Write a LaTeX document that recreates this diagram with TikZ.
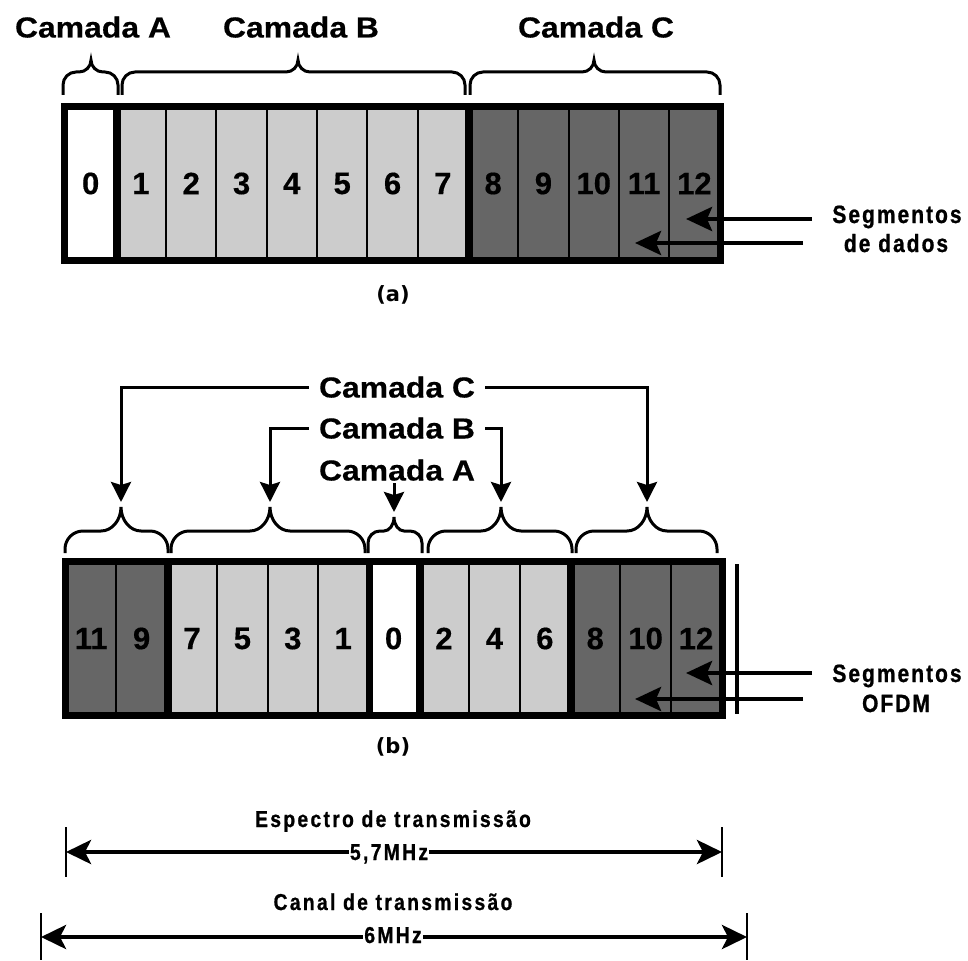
\documentclass[tikz,border=0pt]{standalone}
\usepackage{fontspec}
\setmainfont{Liberation Sans}
\newfontfamily\layerfont{Liberation Sans}[FakeStretch=1.1,FakeBold=0.4]
\newfontfamily\cellfont{Liberation Sans}[FakeBold=0.4]
\newfontfamily\notefont{Liberation Sans}[FakeStretch=0.84,LetterSpace=8,FakeBold=0.8]
\newfontfamily\dimfont{Liberation Sans}[FakeStretch=0.84,LetterSpace=10,FakeBold=0.8]
\newfontfamily\capfont{DejaVu Sans}
\usetikzlibrary{arrows.meta}

\definecolor{cellL}{RGB}{204,204,204}
\definecolor{cellD}{RGB}{102,102,102}

% curly brace: x-left, x-tip, x-right, y-ends, y-bar, y-tip, end radius, tip radius
\newcommand\drawbrace[8]{%
  \draw[bracestyle] (#1,#4) -- (#1,{#5+#7})
    .. controls (#1,{#5+0.45*#7}) and ({#1+0.45*#7},#5) .. ({#1+#7},#5)
    -- ({#2-#8},#5)
    .. controls ({#2-0.45*#8},#5) and (#2,{#6+0.55*(#5-#6)}) .. (#2,#6)
    .. controls (#2,{#6+0.55*(#5-#6)}) and ({#2+0.45*#8},#5) .. ({#2+#8},#5)
    -- ({#3-#7},#5)
    .. controls ({#3-0.45*#7},#5) and (#3,{#5+0.45*#7}) .. (#3,{#5+#7})
    -- (#3,#4);}

\begin{document}
\begin{tikzpicture}[x=1pt,y=-1pt,
  cell/.style={draw=black, line width=2pt, minimum height=152pt, inner sep=0pt,
    font=\cellfont\bfseries\fontsize{31}{31}\selectfont},
  fillW/.style={fill=white},
  fillL/.style={fill=cellL},
  fillD/.style={fill=cellD},
  frame/.style={line width=7pt, line join=miter},
  divider/.style={line width=7.5pt},
  bracestyle/.style={line width=3pt},
  layer/.style={font=\layerfont\bfseries\fontsize{29}{29}\selectfont,
    inner ysep=0pt, inner xsep=10pt, text height=21pt, text depth=0pt},
  note/.style={font=\notefont\bfseries\fontsize{25}{25}\selectfont, inner sep=0pt, anchor=base},
  dimtext/.style={font=\dimfont\bfseries\fontsize{23}{23}\selectfont, inner sep=0pt, anchor=base},
  capt/.style={font=\capfont\bfseries\fontsize{21}{21}\selectfont, inner sep=0pt},
  lblarrow/.style={line width=3pt, -{Stealth[length=20pt, width=20pt, inset=3pt]}},
  segarrow/.style={line width=4.5pt, -{Stealth[length=26pt, width=24pt, inset=5pt]}},
  dimarrow/.style={line width=4.5pt, {Stealth[length=25pt, width=24pt, inset=6pt]}-{Stealth[length=25pt, width=24pt, inset=6pt]}},
  tick/.style={line width=2.5pt}
]
\useasboundingbox (0,0) rectangle (968,960);

% ---------- (a) segments in data order ----------
\foreach \i/\f in {0/fillW,1/fillL,2/fillL,3/fillL,4/fillL,5/fillL,6/fillL,7/fillL,
                   8/fillD,9/fillD,10/fillD,11/fillD,12/fillD}
  \node[cell,\f,minimum width=50.31pt] (a\i) at ({65.5+50.31*(\i+0.5)},183.5) {\i};
\draw[divider] (a0.north east) -- (a0.south east);
\draw[divider] (a7.north east) -- (a7.south east);
\draw[frame] (a0.north west) rectangle (a12.south east);

\node[layer] (laA) at (93,27) {Camada A};
\node[layer] (laB) at (301,27) {Camada B};
\node[layer] (laC) at (596,27) {Camada C};

\drawbrace{63}{91}{118}{95}{72}{60}{13}{12}
\drawbrace{122}{298}{465}{95}{72}{60}{13}{12}
\drawbrace{470}{594}{720}{95}{72}{60}{13}{12}

\coordinate (sa1s) at (812,219);
\coordinate (sa1e) at (686,219);
\coordinate (sa2s) at (803,243);
\coordinate (sa2e) at (635,243);
\draw[segarrow] (sa1s) -- (sa1e);
\draw[segarrow] (sa2s) -- (sa2e);
\node[note] (segA) at (897,223) {Segmentos};
\node[note] (datA) at (896,252) {de dados};

\node[capt] (capA) at (393,295) {(a)};

% ---------- (b) segments in frequency order ----------
\foreach \p/\n/\f in {0/11/fillD,1/9/fillD,2/7/fillL,3/5/fillL,4/3/fillL,5/1/fillL,6/0/fillW,
                      7/2/fillL,8/4/fillL,9/6/fillL,10/8/fillD,11/10/fillD,12/12/fillD}
  \node[cell,\f,minimum width=50.4pt] (b\n) at ({66+50.4*(\p+0.5)},638.5) {\n};
\draw[divider] (b9.north east) -- (b9.south east);
\draw[divider] (b1.north east) -- (b1.south east);
\draw[divider] (b0.north east) -- (b0.south east);
\draw[divider] (b6.north east) -- (b6.south east);
\draw[frame] (b11.north west) rectangle (b12.south east);

\coordinate (vbT) at (737,564);
\coordinate (vbB) at (737,714);
\draw[line width=4pt] (vbT) -- (vbB);

\drawbrace{65}{121}{168}{553}{531}{507}{18}{20}
\drawbrace{171}{270}{365}{553}{531}{507}{18}{20}
\drawbrace{368}{394}{422}{553}{531}{517}{12}{10}
\drawbrace{428}{501}{572}{553}{531}{507}{18}{20}
\drawbrace{576}{647}{717}{553}{531}{507}{18}{20}

\node[layer] (lbC) at (397,387) {Camada C};
\node[layer] (lbB) at (397,428) {Camada B};
\node[layer] (lbA) at (397,470) {Camada A};

\coordinate (tC1) at (121,502);
\coordinate (tC2) at (647,502);
\coordinate (tB1) at (270,502);
\coordinate (tB2) at (501,502);
\coordinate (sA) at (394,483);
\coordinate (tA) at (394,512);
\draw[lblarrow] (lbC.west) -| (tC1);
\draw[lblarrow] (lbC.east) -| (tC2);
\draw[lblarrow] (lbB.west) -| (tB1);
\draw[lblarrow] (lbB.east) -| (tB2);
\draw[lblarrow] (sA) -- (tA);

\coordinate (sb1s) at (812,673);
\coordinate (sb1e) at (686,673);
\coordinate (sb2s) at (803,699);
\coordinate (sb2e) at (635,699);
\draw[segarrow] (sb1s) -- (sb1e);
\draw[segarrow] (sb2s) -- (sb2e);
\node[note] (segB) at (897,682) {Segmentos};
\node[note] (ofdm) at (896,712) {OFDM};

\node[capt] (capB) at (393,747) {(b)};

% ---------- bandwidth dimensions ----------
\coordinate (eL) at (66,852);
\coordinate (eR) at (722,852);
\draw[tick] (66,827) -- (66,877);
\draw[tick] (722,827) -- (722,877);
\draw[dimarrow] (eL) -- (eR);
\node[dimtext] (espT) at (393,827) {Espectro de transmissão};
\node[dimtext, fill=white, inner xsep=1pt] (espV) at (389,860) {5,7MHz};

\coordinate (cL) at (41,937);
\coordinate (cR) at (747,937);
\draw[tick] (41,913) -- (41,960);
\draw[tick] (747,913) -- (747,960);
\draw[dimarrow] (cL) -- (cR);
\node[dimtext] (canT) at (393,910) {Canal de transmissão};
\node[dimtext, fill=white, inner xsep=1pt] (canV) at (393,943) {6MHz};
\end{tikzpicture}
\end{document}
